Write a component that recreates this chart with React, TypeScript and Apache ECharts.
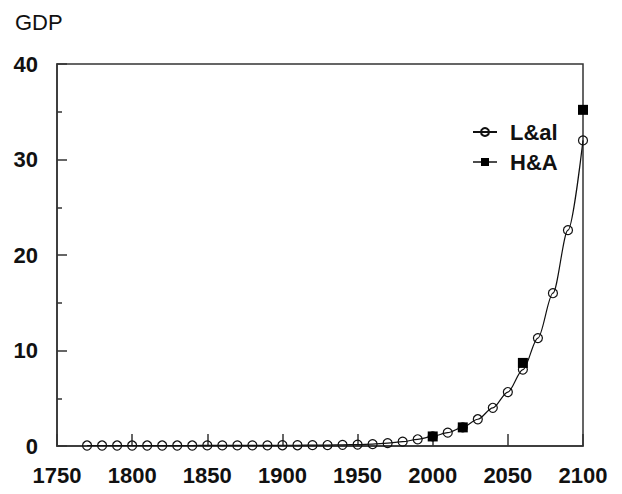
import React, { useEffect, useRef } from "react";
import * as echarts from "echarts";

const lalYears = [1770, 1780, 1790, 1800, 1810, 1820, 1830, 1840, 1850, 1860, 1870, 1880, 1890, 1900, 1910, 1920, 1930, 1940, 1950, 1960, 1970, 1980, 1990, 2000, 2010, 2020, 2030, 2040, 2050, 2060, 2070, 2080, 2090, 2100];
const lalValues = [0.05, 0.05, 0.05, 0.05, 0.05, 0.05, 0.05, 0.05, 0.06, 0.06, 0.06, 0.07, 0.07, 0.08, 0.08, 0.09, 0.1, 0.12, 0.15, 0.2, 0.3, 0.45, 0.7, 1.0, 1.4, 1.95, 2.8, 4.0, 5.65, 8.0, 11.3, 16.0, 22.6, 32.0];
const haYears = [2000, 2020, 2060, 2100];
const haValues = [1.0, 1.95, 8.7, 35.2];

const FONT = "'Liberation Sans', Arial, sans-serif";

export default function App() {
  const ref = useRef<HTMLDivElement>(null);
  useEffect(() => {
    if (!ref.current) return;
    const chart = echarts.init(ref.current, undefined, { renderer: "svg" });
    const labelStyle = { fontFamily: FONT, fontWeight: "bold" as const, fontSize: 22, color: "#111" };
    chart.setOption({
      animation: false,
      backgroundColor: "#fff",
      title: {
        text: "GDP",
        left: 7,
        top: 3,
        padding: 0,
        textStyle: { fontFamily: FONT, fontWeight: "normal", fontSize: 22, color: "#111" },
      },
      grid: {
        left: 49,
        right: 31,
        top: 56,
        bottom: 32,
        show: true,
        borderColor: "#333",
        borderWidth: 1.5,
        backgroundColor: "transparent",
      },
      xAxis: {
        type: "value",
        min: 1750,
        max: 2100,
        interval: 50,
        axisLine: { show: true, lineStyle: { color: "#333", width: 1.5 } },
        axisTick: { show: true, inside: true, length: 12, lineStyle: { color: "#333", width: 1.5 } },
        axisLabel: { ...labelStyle, margin: 18, formatter: (v: number) => String(v) },
        splitLine: { show: false },
      },
      yAxis: {
        type: "value",
        min: 0,
        max: 40,
        interval: 10,
        axisLine: { show: true, lineStyle: { color: "#333", width: 1.5 } },
        axisTick: { show: true, inside: true, length: 10, lineStyle: { color: "#333", width: 1.5 } },
        minorTick: { show: true, splitNumber: 2, length: 5, lineStyle: { color: "#333", width: 1.5 } },
        axisLabel: { ...labelStyle, margin: 19 },
        splitLine: { show: false },
      },
      legend: {
        orient: "vertical",
        left: 459,
        top: 108,
        itemGap: 8,
        itemWidth: 24,
        itemHeight: 10,
        textStyle: { fontFamily: FONT, fontWeight: "bold", fontSize: 22, color: "#111", padding: [0, 0, 0, 8] },
        data: [
          { name: "L&al" },
          { name: "H&A", lineStyle: { width: 1.5, color: "#111", opacity: 1 } },
        ],
      },
      series: [
        {
          name: "L&al",
          type: "line",
          data: lalYears.map((y, i) => [y, lalValues[i]]),
          smooth: 0.3,
          smoothMonotone: "x",
          symbol: "circle",
          symbolSize: 9,
          lineStyle: { color: "#111", width: 1.2 },
          itemStyle: { color: "rgba(255,255,255,0)", borderColor: "#111", borderWidth: 1.2 },
          z: 2,
        },
        {
          name: "H&A",
          type: "line",
          data: haYears.map((y, i) => [y, haValues[i]]),
          symbol: "rect",
          symbolSize: 10,
          lineStyle: { width: 0, opacity: 0, color: "#111" },
          itemStyle: { color: "#000" },
          z: 3,
        },
      ],
    });
    return () => chart.dispose();
  }, []);
  return <div ref={ref} style={{ width: 606, height: 478 }} />;
}
